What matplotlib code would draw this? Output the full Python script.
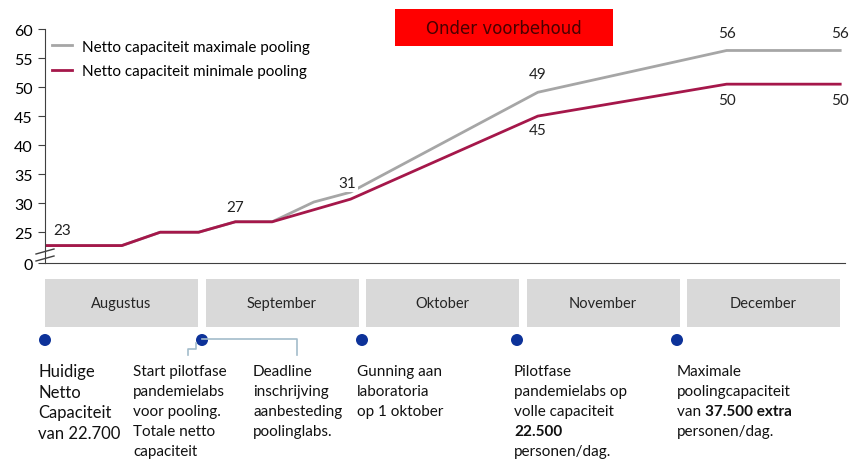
import matplotlib.pyplot as plt
from matplotlib.patches import Rectangle, Circle

plt.rcParams['font.family'] = ['Lato', 'DejaVu Sans']

# x in maanden vanaf 1 augustus
x_min = [0, 0.48, 0.72, 0.96, 1.19, 1.42, 1.91, 3.08, 4.26, 4.97]
y_min = [22.7, 22.7, 25, 25, 26.8, 26.8, 30.7, 45.0, 50.5, 50.5]
x_max = [0, 0.48, 0.72, 0.96, 1.19, 1.42, 1.68, 1.91, 3.08, 4.26, 4.97]
y_max = [22.7, 22.7, 25, 25, 26.8, 26.8, 30.2, 31.9, 49.1, 56.3, 56.3]

# labels bij de lijnen
lbl_x = [0.11, 1.19, 1.89, 3.08, 3.08, 4.26, 4.97, 4.26, 4.97]
lbl_y = [25.3, 29.4, 33.4, 52.2, 42.6, 59.3, 59.3, 47.8, 47.8]
lbl_txt = ['23', '27', '31', '49', '45', '56', '56', '50', '50']

months = ['Augustus', 'September', 'Oktober', 'November', 'December']
yticks = [19.7, 25, 30, 35, 40, 45, 50, 55, 60]
ytick_labels = ['0', '25', '30', '35', '40', '45', '50', '55', '60']

W, H = 852, 460
fig = plt.figure(figsize=(W / 100, H / 100), dpi=100)

# grafiek
ax = fig.add_axes([45 / W, 196 / H, 800 / W, 234 / H])
ax.plot(x_max, y_max, color='#a6a6a6', lw=2, label='Netto capaciteit maximale pooling')
ax.plot(x_min, y_min, color='#a5174a', lw=2, label='Netto capaciteit minimale pooling')
for xx, yy, t in zip(lbl_x, lbl_y, lbl_txt):
    ax.text(xx, yy, t, ha='center', va='center', fontsize=11, color='#222222',
            bbox=dict(fc='white', ec='none', pad=1))
ax.set_xlim(0, 5)
ax.set_ylim(19.7, 60)
ax.set_yticks(yticks)
ax.set_yticklabels(ytick_labels, fontsize=11.5)
ax.set_xticks([])
ax.tick_params(axis='y', length=5, color='#404040', pad=4)
for s in ['top', 'right']:
    ax.spines[s].set_visible(False)
ax.spines['left'].set_color('#404040')
ax.spines['bottom'].set_color('#404040')
ax.legend(loc='upper left', bbox_to_anchor=(-0.005, 1.0), frameon=False, fontsize=11,
          handlelength=1.3, labelspacing=0.7, borderaxespad=0.3, handletextpad=0.7)

# onderbreking van de as
for yb in [253, 260]:
    ax.plot([-9 / 800, 9 / 800], [(264 - yb - 2) / 234, (264 - yb + 3) / 234],
            transform=ax.transAxes, color='#404040', lw=1, clip_on=False)

# overlay in pixels voor tijdlijn
ov = fig.add_axes([0, 0, 1, 1])
ov.set_xlim(0, W)
ov.set_ylim(H, 0)
ov.axis('off')
ov.patch.set_alpha(0)

ov.add_patch(Rectangle((395, 10), 218, 37, fc='#ff0000', ec='none'))
ov.text(504, 29, 'Onder voorbehoud', ha='center', va='center', fontsize=12,
        color='#4a0000', family='DejaVu Sans')

for i, m in enumerate(months):
    x0 = 45 + i * 160.5
    ov.add_patch(Rectangle((x0, 280), 153, 48, fc='#d9d9d9', ec='none'))
    ov.text(x0 + 76.5, 304, m, ha='center', va='center', fontsize=10.5, color='#262626')

# verbindingslijntjes bij september
ov.plot([202, 297, 297], [340, 340, 356], color='#a3bccb', lw=1.2)
ov.plot([196, 196, 188, 188], [344, 350, 350, 356], color='#a3bccb', lw=1.2)

dot_x = [45, 202, 362, 517, 677]
for dx in dot_x:
    ov.add_patch(Circle((dx, 341), 6, fc='#0d3299', ec='none'))

notes = [
    (38, ['Huidige', 'Netto', 'Capaciteit', 'van 22.700'], 12, 20.7),
    (133, ['Start pilotfase', 'pandemielabs', 'voor pooling.', 'Totale netto', 'capaciteit'], 11, 20),
    (253, ['Deadline', 'inschrijving', 'aanbesteding', 'poolinglabs.'], 11, 20),
    (357, ['Gunning aan', 'laboratoria', 'op 1 oktober'], 11, 20),
]
for nx, lines, fs, sp in notes:
    for j, line in enumerate(lines):
        ov.text(nx, 372 + j * sp, line, ha='left', va='center', fontsize=fs, color='#111111')

# teksten met vetgedrukte delen
sp = 20
n5 = ['Pilotfase', 'pandemielabs op', 'volle capaciteit']
for j, line in enumerate(n5):
    ov.text(514, 372 + j * sp, line, ha='left', va='center', fontsize=11, color='#111111')
ov.text(514, 372 + 3 * sp, '22.500', ha='left', va='center', fontsize=11,
        color='#111111', weight='bold')
ov.text(514, 372 + 4 * sp, 'personen/dag.', ha='left', va='center', fontsize=11, color='#111111')

n6 = ['Maximale', 'poolingcapaciteit']
for j, line in enumerate(n6):
    ov.text(677, 372 + j * sp, line, ha='left', va='center', fontsize=11, color='#111111')
t = ov.text(677, 372 + 2 * sp, 'van ', ha='left', va='center', fontsize=11, color='#111111')
ov.annotate('37.500 extra', xy=(1, 0.5), xycoords=t, ha='left', va='center',
            fontsize=11, color='#111111', weight='bold')
ov.text(677, 372 + 3 * sp, 'personen/dag.', ha='left', va='center', fontsize=11, color='#111111')

fig.savefig('out.png', dpi=100)
